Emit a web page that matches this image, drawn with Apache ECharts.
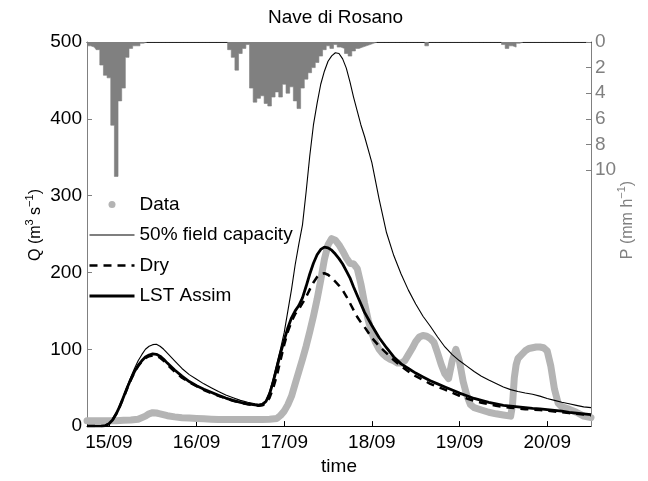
<!DOCTYPE html>
<html><head><meta charset="utf-8">
<script src="https://cdn.jsdelivr.net/npm/echarts@6/dist/echarts.min.js"></script>
<style>html,body{margin:0;padding:0;background:#fff}#c{width:648px;height:481px}</style>
</head><body><div id="c"></div>
<script>
// ---- time axis (hours since 15/09 00:00) ----
const dayHours = [0, 24, 48, 72, 96, 120];
const dayLabels = ['15/09', '16/09', '17/09', '18/09', '19/09', '20/09'];
const precipTicks = [0, 2, 4, 6, 8, 10];

// ---- observed discharge (m3/s) ----
const dataHours = [-6,-4,-2,0,2,4,6,8,10,11,12,13,14,16,18,20,22,24,26,28,30,32,34,36,38,40,42,44,46,47,48,49,50,51,52,53,54,55,56,57,58,59,60,61,62,63,64,65,66,67,68,69,70,71,72,73,74,75,76,77,78,79,80,81,82,83,84,85,86,87,88,89,90,91,92,93,94,95,96,97,98,99,100,102,104,106,108,110,110.5,111,111.5,112,113,114,115,116,117,118,119,120,121,122,123,124,126,128,130,132];
const dataQ = [7,7,7,7,7,7.5,8,9,13,16,17.5,17,16,13.5,12,11,10.5,10,9.5,9,8.7,8.5,8.5,8.5,8.5,8.5,8.7,9,10,14,19.5,28,39,55,71,87,104,123,143,165,190,217,236,244,242,236,228,219,212,211,205,185,160,138,121,109,100,94,90,87,85,82,82,85,93,101,110,116,118,117,114,109,95,80,68,62,85,100,84,58,40,28,24,21,18,16,14.5,13,27,63,80,88,93,98,101,102,103,103,102,98,78,48,30,25,22,18,13,11];

// ---- model runs (m3/s) ----
const modelHours = [-6,-4,-2,-1,0,1,2,3,4,5,6,7,8,9,10,11,12,13,14,15,16,18,20,22,24,26,28,30,32,34,36,38,40,41,42,43,44,45,46,47,48,49,50,51,52,53,54,55,56,57,58,59,60,61,62,63,64,65,66,67,68,69,70,72,74,76,78,80,82,84,86,88,90,92,94,96,98,100,102,104,106,108,110,112,114,116,118,120,122,124,126,128,130,132];
const fieldCapQ = [0,0,0,0.5,3,8,16,27,39,52,64,75,85,93,100,104,106,106.5,104,100,95,85,75,67,61,55,50,45,40.5,37,33.5,31,29,28.5,29.5,33,45,62,82,101,122,150,178,210,237,262,305,352,392,420,445,462,475,482,486,485,478,466,448,428,410,392,377,343,295,252,222,198,177,159,143,130,116,103,93,85,78,71,65,60,55.5,51,47.5,45,43,41.5,39,36,33.5,31,29,27,25,24];
const dryQ = [0,0,0,0.5,3,8,16,26,37,49,60,70,78,84,88.5,91,92,91.5,89,85,80,71,63,57,52,47,43,39.5,36,33,30.5,28.5,27,26.5,27,30,37,50,66,86,106,123,136,146,152,160,168,178,187,194,198,199,197,193,188,183,177,169,160,151,142,135,129,115,104,95,86,78,71,65,60,55,51,47.5,43.5,39.5,36,33,30.5,28.5,26.5,25,24,23,22,21.5,21,20,19,18,17,16,15,14];
const lstQ = [0,0,0,0.5,3,8,16,26,38,50,61,71,79,85,90,92.5,94,93.5,91,87,82,73,65,58,52.5,48,44,40,36.5,33.5,31,29,27.5,27,28,32,42,58,76,95,112,128,141,150,157,167,182,198,212,223,230,233,232,229,224,218,211,202,193,181,170,159,148,131,115,102,90,81,75,69,64,59,55,51,47,43,39.5,36,33.5,31,29,27,26,25,24,23,22.5,21.5,20.5,19.5,18,17,16,15];

// ---- hourly precipitation (mm/h), first value at hour -6 ----
const precipStartHour = -6;
const precipP = [
  0.3,0.3,0.4,0.6,1.8,2.6,2.8,6.5,10.5,4.6,3.6,1.2,0.5,0.3,0.3,0.1,
  0,0,0,0,0,0,0,0,0,0,0,0,0,0,0,0,0,0,0,0,0,0,0,
  0.6,1.2,2.2,0.9,0.5,0.2,3.6,4.7,4.4,4.2,4.8,5.0,4.3,3.9,4.3,3.3,4.0,3.5,4.6,5.2,3.6,2.9,2.4,2.0,1.6,1.1,0.6,0.3,0.5,0.2,0.4,0.5,0.9,1.1,0.7,0.5,0.4,0.3,0.2,0.1,
  0,0,0,0,0,0,0,0,0,0,0,0,0,0,
  0.3,
  0,0,0,0,0,0,0,0,0,0,0,0,0,0,0,0,0,0,0,0,
  0.2,0.5,0.3,0.4,0.1,
  0,0,0,0,0,0,0,0,0,0,0,0,0,0,0,0,0,0,0
];

const FONT = '"Liberation Sans", Arial, Helvetica, sans-serif';
const FS = 19;
const pair = (xs, ys) => xs.map((x, i) => [x, ys[i]]);
const precipData = precipP.map((p, i) => [precipStartHour + i, p]);
const noSymbol = {color: 'rgba(0,0,0,0)', borderWidth: 0, opacity: 0};

const chart = echarts.init(document.getElementById('c'), null, {renderer: 'canvas'});
chart.setOption({
  animation: false,
  backgroundColor: '#fff',
  textStyle: {fontFamily: FONT},
  title: {
    text: 'Nave di Rosano', left: 268, top: 8, padding: 0,
    textStyle: {fontFamily: FONT, fontSize: FS, fontWeight: 'normal', color: '#000'}
  },
  grid: {left: 87, right: 57, top: 42, bottom: 49, containLabel: false},
  legend: {
    data: [
      {name: 'Data', icon: 'circle'},
      {name: '50% field capacity', itemStyle: noSymbol, lineStyle: {width: 1.1}},
      {name: 'Dry', itemStyle: noSymbol, lineStyle: {width: 2.6, type: [8, 6]}},
      {name: 'LST Assim', itemStyle: noSymbol, lineStyle: {width: 3}}
    ],
    orient: 'vertical', left: 88, top: 195, padding: 0,
    itemWidth: 45, itemHeight: 7, itemGap: 11.5, selectedMode: false,
    textStyle: {fontFamily: FONT, fontSize: FS, color: '#000'}
  },
  xAxis: [{
    type: 'value', min: -6, max: 132, position: 'bottom',
    name: 'time', nameLocation: 'middle', nameGap: 28,
    nameTextStyle: {fontFamily: FONT, fontSize: FS, color: '#000'},
    axisLine: {show: true, onZero: false, lineStyle: {color: '#000', width: 1}},
    axisTick: {show: true, inside: true, length: 5, customValues: dayHours, lineStyle: {color: '#000'}},
    axisLabel: {customValues: dayHours, formatter: v => dayLabels[dayHours.indexOf(v)], fontFamily: FONT, fontSize: FS, color: '#000', margin: 7},
    splitLine: {show: false}
  }, {
    type: 'value', min: -6, max: 132, position: 'top',
    axisLine: {show: true, onZero: false, lineStyle: {color: '#000', width: 1}},
    axisTick: {show: false}, axisLabel: {show: false}, splitLine: {show: false}
  }],
  yAxis: [{
    type: 'value', min: 0, max: 500, interval: 100, position: 'left',
    axisLine: {show: true, onZero: false, lineStyle: {color: '#808080', width: 1}},
    axisTick: {show: true, inside: true, length: 5, lineStyle: {color: '#808080'}},
    axisLabel: {fontFamily: FONT, fontSize: FS, color: '#000', margin: 5},
    splitLine: {show: false}
  }, {
    type: 'value', min: 0, max: 30, inverse: true, position: 'right',
    axisLine: {show: true, onZero: false, lineStyle: {color: '#808080', width: 1}},
    axisTick: {show: true, inside: true, length: 5, customValues: precipTicks, lineStyle: {color: '#808080'}},
    axisLabel: {customValues: precipTicks, fontFamily: FONT, fontSize: FS, color: '#808080', margin: 4},
    splitLine: {show: false}
  }],
  series: [{
    name: 'P', type: 'line', step: 'middle', xAxisIndex: 0, yAxisIndex: 1,
    data: precipData, symbol: 'none',
    lineStyle: {color: '#808080', width: 0.6},
    areaStyle: {color: '#808080', opacity: 1, origin: 'start'},
    itemStyle: {color: '#808080'}, z: 1
  }, {
    name: 'Data', type: 'line', xAxisIndex: 0, yAxisIndex: 0,
    data: pair(dataHours, dataQ), symbol: 'none',
    lineStyle: {color: '#b4b4b4', width: 7, cap: 'round', join: 'round'},
    itemStyle: {color: '#b4b4b4'}, z: 2
  }, {
    name: '50% field capacity', type: 'line', data: pair(modelHours, fieldCapQ), symbol: 'none',
    lineStyle: {color: '#000', width: 1.1}, itemStyle: {color: '#000'}, z: 3
  }, {
    name: 'Dry', type: 'line', data: pair(modelHours, dryQ), symbol: 'none',
    lineStyle: {color: '#000', width: 2.5, type: [8, 6]}, itemStyle: {color: '#000'}, z: 3
  }, {
    name: 'LST Assim', type: 'line', data: pair(modelHours, lstQ), symbol: 'none',
    lineStyle: {color: '#000', width: 2.8}, itemStyle: {color: '#000'}, z: 4
  }],
  graphic: [{
    type: 'text', x: 34, y: 225, rotation: Math.PI / 2,
    style: {
      text: '{n|Q (m}{s|3}{n| s}{s|−1}{n|)}', align: 'center', verticalAlign: 'middle', fill: '#000',
      rich: {
        n: {fontFamily: FONT, fontSize: 16, lineHeight: 20, verticalAlign: 'bottom', fill: '#000'},
        s: {fontFamily: FONT, fontSize: 11, lineHeight: 12, verticalAlign: 'top', fill: '#000'}
      }
    }
  }, {
    type: 'text', x: 626, y: 220, rotation: Math.PI / 2,
    style: {
      text: '{n|P (mm h}{s|−1}{n|)}', align: 'center', verticalAlign: 'middle', fill: '#808080',
      rich: {
        n: {fontFamily: FONT, fontSize: 16, lineHeight: 20, verticalAlign: 'bottom', fill: '#808080'},
        s: {fontFamily: FONT, fontSize: 11, lineHeight: 12, verticalAlign: 'top', fill: '#808080'}
      }
    }
  }]
});
</script>
</body></html>
